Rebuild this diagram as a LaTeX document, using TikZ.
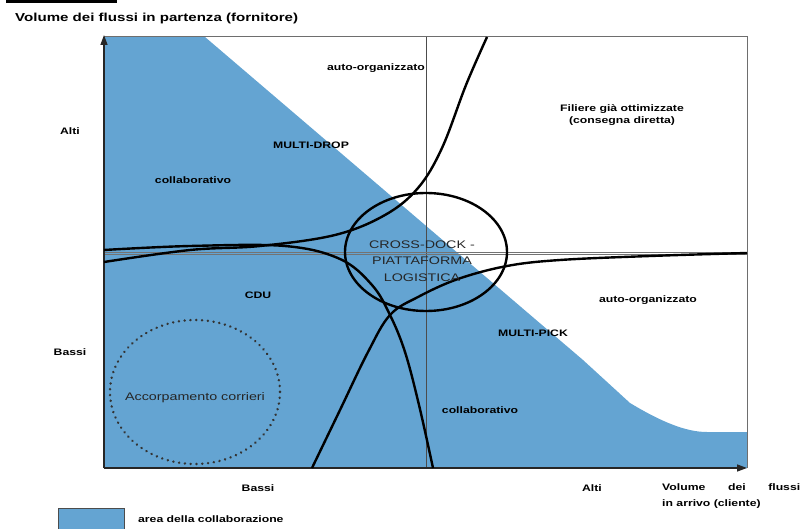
\documentclass[tikz,border=0pt]{standalone}
\usepackage{fontspec}
\usepackage{graphicx}
\setmainfont{Liberation Sans}
\usetikzlibrary{arrows.meta}
\definecolor{collab}{RGB}{100,164,210}
\definecolor{framegray}{RGB}{110,110,110}
\newcommand{\wide}[1]{\scalebox{1.3}[1]{#1}}
\tikzset{
  lbl/.style={inner sep=0pt, font=\fontsize{9.4}{11}\selectfont\bfseries, text=black},
  bigtxt/.style={inner sep=0pt, font=\fontsize{11}{16.5}\selectfont, text=black!85},
  titletxt/.style={inner sep=0pt, font=\fontsize{11.6}{13}\selectfont\bfseries, text=black},
  curve/.style={line width=2.4pt, black},
  axis/.style={line width=1.3pt, black!85, -{Triangle[length=10pt,width=7pt]}},
  framel/.style={line width=1pt, framegray},
  divider/.style={line width=1pt, black!70},
}
\begin{document}
\begin{tikzpicture}[x=1pt,y=-1pt]
\useasboundingbox (0,0) rectangle (803,529);

% key points of the chart
\coordinate (o) at (104,468);
\coordinate (ytip) at (104,35);
\coordinate (xtip) at (747,468);
\coordinate (tr) at (747,37);
\coordinate (tl) at (104,37);

% collaboration area
\fill[collab] (104,37) -- (205,37) -- (583,360) -- (630,403)
  .. controls (660,421) and (685,432) .. (707,432) -- (747,432) -- (747,468) -- (104,468) -- cycle;

% black bar top left
\fill[black] (6,0) rectangle (117,3.5);

% frame and dividers
\draw[framel] (tl) -- (tr) -- (xtip);
\draw[divider] (426,37) -- (426,468);
\draw[line width=0.7pt, black!55] (104,252) -- (747,252);
\draw[line width=0.7pt, black!55] (104,254.5) -- (747,254.5);

% axes
\draw[axis] (o) -- (ytip);
\draw[axis] (o) -- (xtip);

% curves
\draw[curve] plot[smooth, tension=0.6] coordinates {(487,37) (466,85) (442,148) (418,188) (385,215) (335,235) (260,246) (190,250) (104,262)};
\draw[curve] plot[smooth, tension=0.6] coordinates {(104,250) (190,246) (285,246) (340,259) (372,285) (390,315) (405,352) (419,405) (433,468)};
\draw[curve] plot[smooth, tension=0.6] coordinates {(747,253) (650,256) (560,260) (507,266) (458,279) (418,297) (390,315) (368,352) (340,410) (312,468)};

% cross-dock ellipse
\draw[curve] (426,252) ellipse [x radius=81, y radius=59];

% carrier grouping
\draw[line width=2.7pt, black!80, dash pattern=on 0.01pt off 5.8pt, line cap=round] (195,392) ellipse [x radius=85, y radius=72];

% texts
\node[titletxt, anchor=west] (ty) at (15,19) {\wide{Volume dei flussi in partenza (fornitore)}};
\node[lbl] (ao1) at (376,68) {\wide{auto-organizzato}};
\node[lbl, align=center] (fil) at (622,115) {\wide{Filiere già ottimizzate}\\[1pt]\wide{(consegna diretta)}};
\node[lbl] (alti1) at (70,131) {\wide{Alti}};
\node[lbl] (md) at (311,145) {\wide{MULTI-DROP}};
\node[lbl] (co1) at (193,180) {\wide{collaborativo}};
\node[bigtxt, align=center] (cd) at (422,261) {\wide{CROSS-DOCK -}\\\wide{PIATTAFORMA}\\\wide{LOGISTICA}};
\node[lbl] (cdu) at (258,295) {\wide{CDU}};
\node[lbl] (ao2) at (648,300) {\wide{auto-organizzato}};
\node[lbl] (mp) at (533,333) {\wide{MULTI-PICK}};
\node[lbl] (bassi1) at (70,352) {\wide{Bassi}};
\node[bigtxt] (acc) at (195,398) {\wide{Accorpamento corrieri}};
\node[lbl] (co2) at (480,410) {\wide{collaborativo}};
\node[lbl] (bassi2) at (258,488) {\wide{Bassi}};
\node[lbl] (alti2) at (592,488) {\wide{Alti}};
\node[lbl, anchor=north west] (tx) at (662,483) {\makebox[138pt][s]{\wide{Volume}\hfill\wide{dei}\hfill\wide{flussi}}};
\node[lbl, anchor=north west] (tx2) at (662,499) {\wide{in arrivo (cliente)}};

% legend
\draw[fill=collab, draw=black!70, line width=1pt] (58,508) rectangle (124,531);
\node[lbl, anchor=west] (leg) at (138,519) {\wide{area della collaborazione}};
\end{tikzpicture}
\end{document}
